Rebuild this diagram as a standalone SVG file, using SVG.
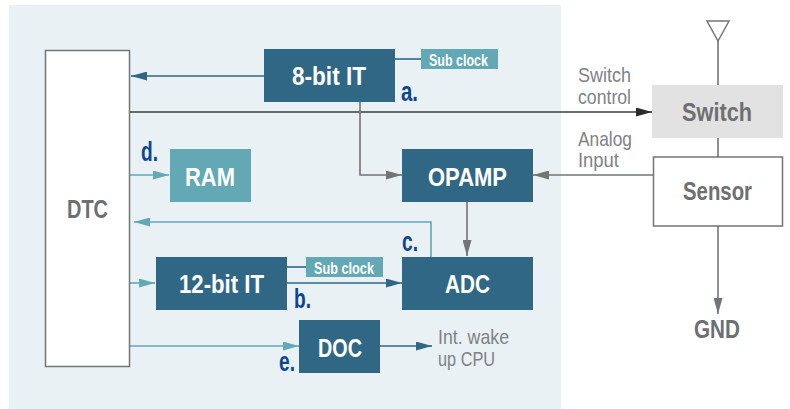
<svg xmlns="http://www.w3.org/2000/svg" width="790" height="409" viewBox="0 0 790 409">
<style>
text{font-family:"Liberation Sans",Arial,sans-serif}
.n{font-size:26px;font-weight:bold;fill:#fff}
.g{font-size:26px;font-weight:bold;fill:#6e6f71}
.s{font-size:17px;font-weight:bold;fill:#fff}
.l{font-size:27px;font-weight:bold;fill:#0d4690}
.t{font-size:21px;fill:#808285}
.dk{fill:#306785}.tl{fill:#62a8b5}
.c{fill:none;stroke-width:1.6}
</style>
<defs>
<marker id="ad" markerUnits="userSpaceOnUse" markerWidth="16" markerHeight="9" refX="16" refY="4.500" orient="auto"><path d="M0 0L16 4.500L0 9Z" fill="#306785"/></marker>
<marker id="at" markerUnits="userSpaceOnUse" markerWidth="16" markerHeight="9" refX="16" refY="4.500" orient="auto"><path d="M0 0L16 4.500L0 9Z" fill="#62a8b5"/></marker>
<marker id="ag" markerUnits="userSpaceOnUse" markerWidth="16" markerHeight="9" refX="16" refY="4.500" orient="auto"><path d="M0 0L16 4.500L0 9Z" fill="#737476"/></marker>
<marker id="ak" markerUnits="userSpaceOnUse" markerWidth="16" markerHeight="9" refX="16" refY="4.500" orient="auto"><path d="M0 0L16 4.500L0 9Z" fill="#2b2b2b"/></marker>
</defs>
<rect x="9" y="5" width="552" height="404" fill="#e9f1f4"/>
<g id="connectors">
<path class="c" stroke="#306785" d="M264 76H131" marker-end="url(#ad)"/>
<path class="c" stroke="#306785" d="M395 59H421"/>
<path class="c" stroke="#3c3c3c" d="M130 112H652" marker-end="url(#ak)"/>
<path class="c" stroke="#737476" d="M360 102V175H402" marker-end="url(#ag)"/>
<path class="c" stroke="#62a8b5" d="M129 175H169" marker-end="url(#at)"/>
<path class="c" stroke="#737476" d="M653 175H533" marker-end="url(#ag)"/>
<path class="c" stroke="#737476" d="M467 202V256" marker-end="url(#ag)"/>
<path class="c" stroke="#62a8b5" d="M431 257V222H134" marker-end="url(#at)"/>
<path class="c" stroke="#62a8b5" d="M129 283H155" marker-end="url(#at)"/>
<path class="c" stroke="#306785" d="M287 267H306"/>
<path class="c" stroke="#306785" d="M287 283H402" marker-end="url(#ad)"/>
<path class="c" stroke="#62a8b5" d="M130 346H299" marker-end="url(#at)"/>
<path class="c" stroke="#306785" d="M380 346H432" marker-end="url(#ad)"/>
<path class="c" stroke="#737476" d="M718 41V85M718 138V157"/>
<path class="c" stroke="#737476" d="M718 226V314" marker-end="url(#ag)"/>
</g>
<g id="antenna"><path d="M707 21H729L718 41Z" fill="#fff" stroke="#737476" stroke-width="1.500"/></g>
<g id="dtc"><rect x="45.500" y="50.500" width="84" height="316" fill="#fff" stroke="#737476" stroke-width="1.500"/><text class="g" x="67" y="218" textLength="41" lengthAdjust="spacingAndGlyphs">DTC</text></g>
<g id="it8"><rect class="dk" x="264" y="49" width="131" height="53"/><text class="n" x="292" y="85" textLength="74" lengthAdjust="spacingAndGlyphs">8-bit IT</text></g>
<g id="subclock1"><rect class="tl" x="421" y="49" width="77" height="20"/><text class="s" x="429" y="66" textLength="59" lengthAdjust="spacingAndGlyphs">Sub clock</text></g>
<g id="ram"><rect class="tl" x="170" y="149" width="81" height="53"/><text class="n" x="185" y="186" textLength="50" lengthAdjust="spacingAndGlyphs">RAM</text></g>
<g id="opamp"><rect class="dk" x="402" y="149" width="131" height="53"/><text class="n" x="428" y="186" textLength="79" lengthAdjust="spacingAndGlyphs">OPAMP</text></g>
<g id="adc"><rect class="dk" x="402" y="257" width="131" height="53"/><text class="n" x="445" y="293" textLength="45" lengthAdjust="spacingAndGlyphs">ADC</text></g>
<g id="it12"><rect class="dk" x="156" y="257" width="131" height="53"/><text class="n" x="179" y="293" textLength="85" lengthAdjust="spacingAndGlyphs">12-bit IT</text></g>
<g id="subclock2"><rect class="tl" x="306" y="257" width="77" height="20"/><text class="s" x="314" y="274" textLength="60" lengthAdjust="spacingAndGlyphs">Sub clock</text></g>
<g id="doc"><rect class="dk" x="299" y="320" width="81" height="53"/><text class="n" x="318" y="357" textLength="44" lengthAdjust="spacingAndGlyphs">DOC</text></g>
<g id="switch"><rect x="652" y="85" width="131" height="53" fill="#e2e2e2"/><text class="g" x="682" y="121" textLength="70" lengthAdjust="spacingAndGlyphs">Switch</text></g>
<g id="sensor"><rect x="653.500" y="157" width="129" height="69" fill="#fff" stroke="#737476" stroke-width="1.500"/><text class="g" x="683" y="200" textLength="69" lengthAdjust="spacingAndGlyphs">Sensor</text></g>
<g id="gnd"><text class="g" x="694" y="338" textLength="46" lengthAdjust="spacingAndGlyphs">GND</text></g>
<g id="labels">
<text class="l" x="401" y="101" textLength="17" lengthAdjust="spacingAndGlyphs">a.</text>
<text class="l" x="294" y="308" textLength="17" lengthAdjust="spacingAndGlyphs">b.</text>
<text class="l" x="402" y="251" textLength="16" lengthAdjust="spacingAndGlyphs">c.</text>
<text class="l" x="141" y="161" textLength="17" lengthAdjust="spacingAndGlyphs">d.</text>
<text class="l" x="279" y="371" textLength="16" lengthAdjust="spacingAndGlyphs">e.</text>
<text class="t" x="578" y="82" textLength="53" lengthAdjust="spacingAndGlyphs">Switch</text>
<text class="t" x="578" y="104" textLength="53" lengthAdjust="spacingAndGlyphs">control</text>
<text class="t" x="578" y="146" textLength="54" lengthAdjust="spacingAndGlyphs">Analog</text>
<text class="t" x="578" y="167" textLength="41" lengthAdjust="spacingAndGlyphs">Input</text>
<text class="t" x="438" y="344" textLength="71" lengthAdjust="spacingAndGlyphs">Int. wake</text>
<text class="t" x="438" y="366" textLength="57" lengthAdjust="spacingAndGlyphs">up CPU</text>
</g>
</svg>
